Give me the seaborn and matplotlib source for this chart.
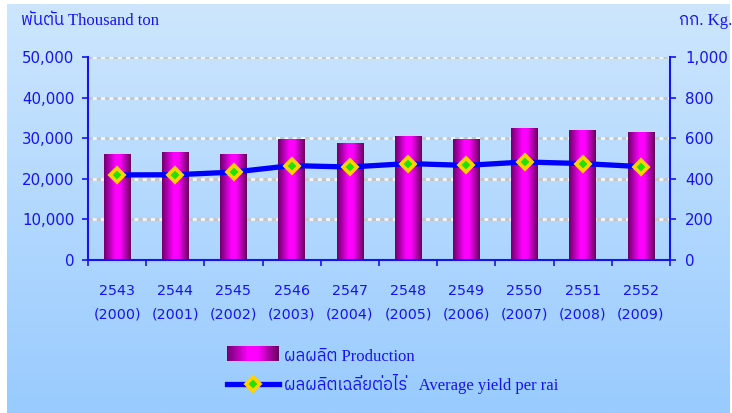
import numpy as np
import matplotlib
matplotlib.use('Agg')
import matplotlib.pyplot as plt
import seaborn as sns
from matplotlib import font_manager, ft2font
from matplotlib.colors import LinearSegmentedColormap
from matplotlib.lines import Line2D
from matplotlib.patches import Rectangle
from matplotlib.legend_handler import HandlerBase
from matplotlib.ticker import FuncFormatter, MultipleLocator

# data
years_be = ['2543', '2544', '2545', '2546', '2547', '2548', '2549', '2550', '2551', '2552']
years_ad = ['2000', '2001', '2002', '2003', '2004', '2005', '2006', '2007', '2008', '2009']
production = [25900, 26600, 26100, 29600, 28600, 30300, 29800, 32300, 31800, 31500]   # thousand ton
avg_yield = [419, 420, 433, 465, 458, 475, 466, 483, 475, 460]                        # kg per rai

BLUE = '#1414f0'
bar_cmap = LinearSegmentedColormap.from_list(
    'bar', [(0, '#6e006c'), (0.42, '#ff00ff'), (0.6, '#ff00ff'), (1, '#68005f')])


def thai_family():
    # look for any installed font that has Thai glyphs
    hits = []
    for fe in font_manager.fontManager.ttflist:
        try:
            if ft2font.FT2Font(fe.fname).get_char_index(ord('ผ')):
                hits.append(fe.name)
        except Exception:
            pass
    for h in hits:
        if 'Thai' in h:
            return h
    return hits[0] if hits else 'DejaVu Sans'


THAI = thai_family()
serif_mix = ['Liberation Serif', THAI, 'DejaVu Sans']


class GradientHandler(HandlerBase):
    def create_artists(self, legend, orig, xd, yd, width, height, fontsize, trans):
        n = 30
        out = []
        for i in range(n):
            r = Rectangle((xd + width * i / n - 0.2, yd - height * 0.1), width / n + 0.4, height * 1.1,
                          facecolor=bar_cmap((i + 0.5) / n), edgecolor='none', transform=trans)
            out.append(r)
        return out


fig = plt.figure(figsize=(7.32, 4.13), dpi=100, facecolor='white')

# gradient background panel
bg = fig.add_axes([7 / 732, 0, 723 / 732, 409 / 413], zorder=-5)
grad = np.linspace(0, 1, 256).reshape(-1, 1)
bg_cmap = LinearSegmentedColormap.from_list('bg', ['#cde6fd', '#99cbff'])
bg.imshow(grad, aspect='auto', cmap=bg_cmap, extent=[0, 1, 0, 1], origin='upper')
bg.axis('off')

ax = fig.add_axes([88 / 732, 1 - 260 / 413, 582 / 732, 203 / 413])
ax.set_facecolor('none')
ax.set_axisbelow(True)

sns.barplot(x=years_be, y=production, ax=ax, width=0.46, color='#ff00ff',
            saturation=1, edgecolor='none', zorder=2)
for p in ax.patches:
    x0, y0 = p.get_x(), p.get_y()
    w, h = p.get_width(), p.get_height()
    ax.imshow(np.linspace(0, 1, 64).reshape(1, -1), cmap=bar_cmap, aspect='auto',
              extent=[x0, x0 + w, y0, y0 + h], zorder=2.1)
    p.set_facecolor('none')

ax.set_xlim(-0.5, 9.5)
ax.set_ylim(0, 50000)
ax.yaxis.set_major_locator(MultipleLocator(10000))
ax.yaxis.set_major_formatter(FuncFormatter(lambda v, _: f'{int(v):,}'))
ax.grid(axis='y', color='#c6c6c6', gapcolor='#f6f6f6', lw=2, linestyle=(0, (1.5, 1.5)), zorder=0)
ax.set_xticks(range(10))
ax.set_xticklabels([f'{b}\n({a})' for b, a in zip(years_be, years_ad)], linespacing=1.9)
ax.set_xticks(np.arange(-0.5, 10, 1), minor=True)
ax.tick_params(axis='x', which='major', length=0, pad=17, labelsize=10.3, labelcolor=BLUE)
ax.tick_params(axis='x', which='minor', length=4, width=1.2, color=BLUE, direction='out')
ax.tick_params(axis='y', length=4, width=1.2, color=BLUE, pad=6, labelsize=10.8, labelcolor=BLUE)
ax.set_xlabel('')
ax.set_ylabel('')
for s in ['left', 'bottom']:
    ax.spines[s].set_color(BLUE)
    ax.spines[s].set_linewidth(1.5)
for s in ['top', 'right']:
    ax.spines[s].set_visible(False)

ax2 = ax.twinx()
sns.lineplot(x=np.arange(len(avg_yield)), y=avg_yield, ax=ax2, color='#0000ff', lw=3.8,
             marker='D', markersize=7.5, markerfacecolor='#22e000', markeredgecolor='#ffd200',
             markeredgewidth=2.6, zorder=5)
ax2.set_ylim(0, 1000)
ax2.set_xlim(-0.5, 9.5)
ax2.yaxis.set_major_locator(MultipleLocator(200))
ax2.yaxis.set_major_formatter(FuncFormatter(lambda v, _: f'{int(v):,}'))
ax2.tick_params(axis='y', length=4, width=1.2, color=BLUE, pad=7, labelsize=10.8, labelcolor=BLUE)
ax2.set_ylabel('')
for s in ['top', 'left', 'bottom']:
    ax2.spines[s].set_visible(False)
ax2.spines['right'].set_color(BLUE)
ax2.spines['right'].set_linewidth(1.5)

fig.text(21 / 732, 1 - 21 / 413, 'พันตัน Thousand ton', color=BLUE, fontsize=12,
         family=serif_mix, va='center', ha='left')
fig.text(679 / 732, 1 - 21 / 413, 'กก. Kg.', color=BLUE, fontsize=12,
         family=serif_mix, va='center', ha='left')

h_bar = Rectangle((0, 0), 1, 1)
h_line = Line2D([], [], color='#0000ff', lw=3.8, marker='D', markersize=7.5,
                markerfacecolor='#22e000', markeredgecolor='#ffd200', markeredgewidth=2.6)
leg = fig.legend([h_bar, h_line],
                 ['ผลผลิต Production', 'ผลผลิตเฉลี่ยต่อไร่   Average yield per rai'],
                 handler_map={Rectangle: GradientHandler()},
                 loc='center left', bbox_to_anchor=(227 / 732, 1 - 371 / 413),
                 frameon=False, borderpad=0, borderaxespad=0, handlelength=3.1,
                 handleheight=0.85, handletextpad=0.3, labelspacing=0.55,
                 prop={'family': serif_mix, 'size': 12})
for t in leg.get_texts():
    t.set_color(BLUE)

fig.savefig('out.png', dpi=100, facecolor='white')
